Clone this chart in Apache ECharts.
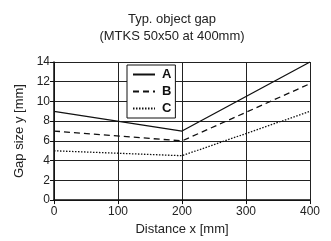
<!DOCTYPE html>
<html><head><meta charset="utf-8">
<script src="https://cdn.jsdelivr.net/npm/echarts@6/dist/echarts.min.js"></script>
<style>html,body{margin:0;padding:0;background:#fff}#c{width:331px;height:241px}</style>
</head><body><div id="c"></div>
<script>
const xValues = [0, 200, 400];
const seriesA = [9, 7, 14];
const seriesB = [7, 6, 11.8];
const seriesC = [5, 4.5, 9];
const seriesNames = ['A', 'B', 'C'];
const titleText = 'Typ. object gap\n(MTKS 50x50 at 400mm)';
const FONT = '"Liberation Sans", Arial, sans-serif';
const chart = echarts.init(document.getElementById('c'), null, {renderer: 'canvas'});
const mk = (name, vals, type, w) => ({
  name, type: 'line', symbol: 'none', animation: false, color: '#111',
  data: xValues.map((x, i) => [x, vals[i]]),
  lineStyle: {color: '#111', width: w, type: type}
});
chart.setOption({
  backgroundColor: '#fff',
  title: {text: titleText, left: 167, textAlign: 'center', top: 6,
    textStyle: {fontFamily: FONT, fontSize: 13, fontWeight: 'normal', color: '#222', lineHeight: 17}},
  grid: {left: 54, right: 21, top: 62, bottom: 37},
  legend: {
    data: seriesNames, orient: 'vertical', left: 127, top: 65,
    itemWidth: 22, itemHeight: 12, itemGap: 4,
    padding: [3, 4, 3, 5], borderColor: '#111', borderWidth: 1, backgroundColor: '#fff',
    itemStyle: {opacity: 0},
    textStyle: {fontFamily: FONT, fontSize: 13, fontWeight: 'bold', color: '#111', padding: [0, 0, 0, 2]},
    z: 10
  },
  xAxis: {
    type: 'value', min: 0, max: 400, interval: 100,
    name: 'Distance x [mm]', nameLocation: 'middle', nameGap: 19,
    nameTextStyle: {fontFamily: FONT, fontSize: 13, color: '#222'},
    axisLine: {lineStyle: {color: '#111', width: 1.5}},
    axisTick: {show: true, length: 4, lineStyle: {color: '#111'}},
    axisLabel: {fontFamily: FONT, fontSize: 12, color: '#222', margin: 6},
    splitLine: {show: true, lineStyle: {color: '#222', width: 1}}
  },
  yAxis: {
    type: 'value', min: 0, max: 14, interval: 2,
    name: 'Gap size y [mm]', nameLocation: 'middle', nameGap: 28, nameRotate: 90,
    nameTextStyle: {fontFamily: FONT, fontSize: 13, color: '#222'},
    axisLine: {show: true, lineStyle: {color: '#111', width: 1.5}},
    axisTick: {show: true, length: 4, lineStyle: {color: '#111'}},
    axisLabel: {fontFamily: FONT, fontSize: 12, color: '#222', margin: 4},
    splitLine: {show: true, lineStyle: {color: '#222', width: 1}}
  },
  series: [
    mk(seriesNames[0], seriesA, 'solid', 1.3),
    mk(seriesNames[1], seriesB, [6, 4], 1.3),
    mk(seriesNames[2], seriesC, [1.5, 1.5], 1.3)
  ]
});
</script></body></html>
